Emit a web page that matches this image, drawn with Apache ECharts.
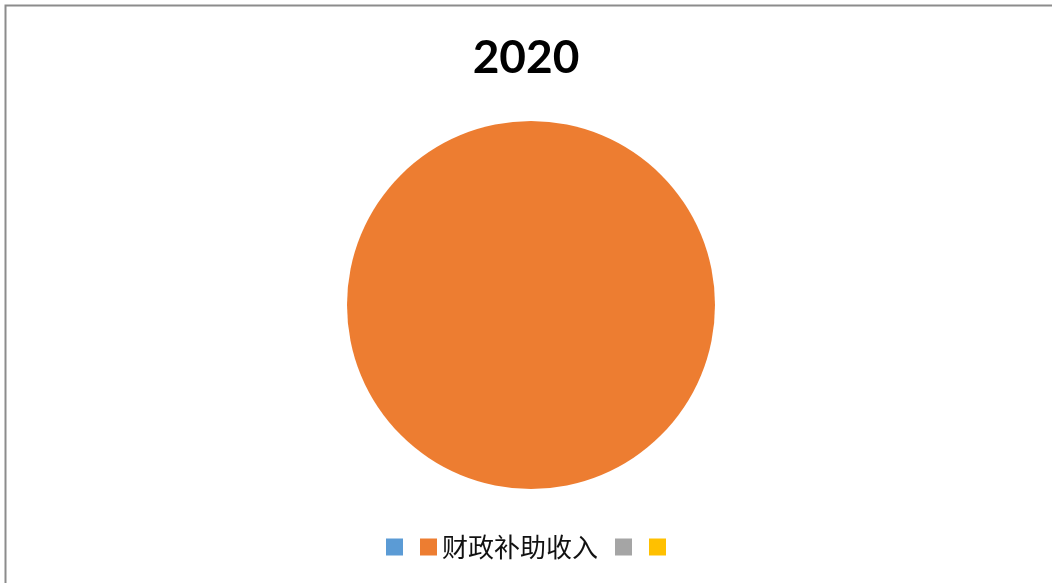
<!DOCTYPE html>
<html>
<head>
<meta charset="utf-8">
<script src="https://cdn.jsdelivr.net/npm/echarts@6/dist/echarts.min.js"></script>
<style>
html,body{margin:0;padding:0;background:#fff;}
#chart{width:1052px;height:583px;}
</style>
</head>
<body>
<div id="chart"></div>
<script>
const titleText = '2020';
const categories = [' ', '财政补助收入', '  ', '   '];
const values = [0, 100, 0, 0];
const colors = ['#5B9BD5', '#ED7D31', '#A5A5A5', '#FFC000'];

const chart = echarts.init(document.getElementById('chart'), null, {renderer: 'canvas'});
chart.setOption({
  backgroundColor: '#ffffff',
  animation: false,
  color: colors,
  title: {
    text: titleText,
    left: 'center',
    top: 30,
    textStyle: {
      fontFamily: '"Lato", "Noto Sans", sans-serif',
      fontWeight: 'bold',
      fontSize: 46,
      color: '#000'
    }
  },
  graphic: [{
    type: 'rect',
    shape: {x: 5.5, y: 5.5, width: 1200, height: 700},
    style: {fill: 'none', stroke: '#8c8c8c', lineWidth: 2},
    silent: true
  }],
  legend: {
    data: categories,
    left: 'center',
    top: 529,
    itemWidth: 17,
    itemHeight: 17,
    itemGap: 17,
    icon: 'rect',
    formatter: function (n) { return n.trim(); },
    textStyle: {
      fontFamily: '"Noto Sans CJK SC", sans-serif',
      fontSize: 26,
      color: '#111'
    }
  },
  series: [{
    type: 'pie',
    center: [531, 305],
    radius: 184,
    startAngle: 90,
    label: {show: false},
    labelLine: {show: false},
    itemStyle: {borderWidth: 0},
    data: categories.map((c, i) => ({name: c, value: values[i]}))
  }]
});
</script>
</body>
</html>
